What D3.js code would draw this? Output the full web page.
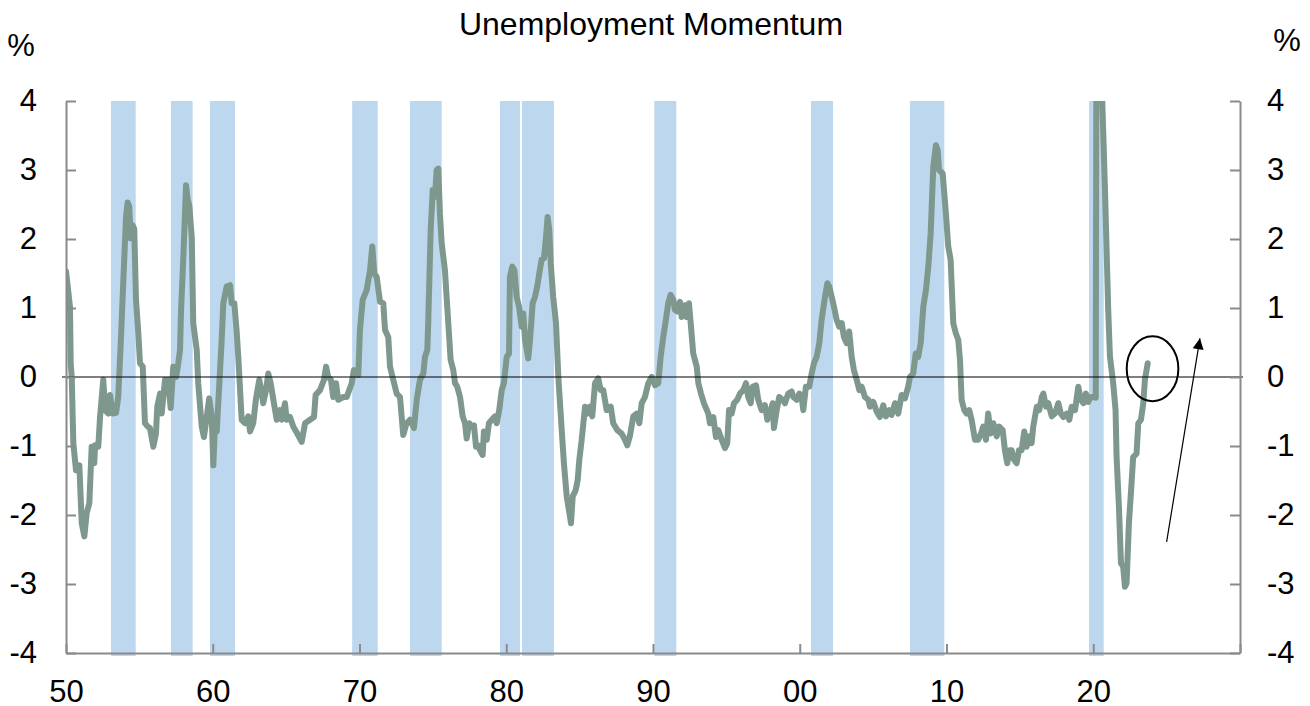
<!DOCTYPE html>
<html>
<head>
<meta charset="utf-8">
<script src="https://cdn.jsdelivr.net/npm/d3@7"></script>
<style>
  body { margin: 0; background: #fff; }
  svg { display: block; font-family: "Liberation Sans", Arial, sans-serif; }
</style>
</head>
<body>
<div class="chart"></div>
<script>
// recession periods [start, end] in decimal years
const recessions = [
  [1953.07, 1954.75], [1957.15, 1958.63], [1959.81, 1961.52], [1969.5, 1971.24],
  [1973.44, 1975.6], [1979.57, 1980.94], [1981.07, 1983.25], [1990.09, 1991.59],
  [2000.77, 2002.27], [2007.51, 2009.85], [2019.71, 2020.71]
];

// unemployment momentum, [year, %]
const momentum = [
  [1950.00, 1.53], [1950.27, 1.02], [1950.32, 0.2], [1950.39, 0.0], [1950.50, -0.96],
  [1950.68, -1.35], [1950.91, -1.28], [1951.07, -2.12], [1951.25, -2.31], [1951.41, -1.97],
  [1951.59, -1.83], [1951.75, -1.01], [1951.93, -1.25], [1951.98, -0.99], [1952.20, -1.01],
  [1952.32, -0.58], [1952.54, -0.04], [1952.66, -0.48], [1952.88, -0.53], [1953.00, -0.26],
  [1953.18, -0.53], [1953.41, -0.52], [1953.56, -0.29], [1953.73, 0.49], [1953.90, 1.36],
  [1954.09, 2.32], [1954.20, 2.53], [1954.31, 2.47], [1954.41, 2.01], [1954.54, 2.2],
  [1954.65, 2.15], [1954.77, 1.12], [1954.93, 0.63], [1955.04, 0.2], [1955.23, 0.15],
  [1955.38, -0.67], [1955.57, -0.72], [1955.72, -0.74], [1955.95, -1.01], [1956.13, -0.82],
  [1956.22, -0.43], [1956.41, -0.24], [1956.52, -0.53], [1956.75, -0.04], [1956.90, -0.19],
  [1956.97, -0.04], [1957.13, -0.45], [1957.31, 0.15], [1957.50, 0.0], [1957.65, 0.2],
  [1957.77, 0.39], [1957.84, 0.97], [1957.99, 1.7], [1958.18, 2.78], [1958.29, 2.57],
  [1958.40, 2.49], [1958.57, 2.03], [1958.67, 0.78], [1958.91, 0.39], [1959.01, -0.09],
  [1959.25, -0.72], [1959.40, -0.87], [1959.59, -0.58], [1959.76, -0.31], [1959.93, -0.57],
  [1960.04, -1.28], [1960.15, -0.72], [1960.27, -0.79], [1960.45, -0.09], [1960.61, 0.54],
  [1960.72, 1.07], [1960.95, 1.31], [1961.18, 1.33], [1961.29, 1.07], [1961.47, 1.07],
  [1961.63, 0.66], [1961.74, 0.29], [1961.97, -0.62], [1962.20, -0.67], [1962.42, -0.57],
  [1962.54, -0.79], [1962.76, -0.67], [1962.95, -0.31], [1963.17, -0.04], [1963.34, -0.24],
  [1963.44, -0.38], [1963.63, -0.19], [1963.78, 0.05], [1963.95, -0.09], [1964.13, -0.33],
  [1964.36, -0.62], [1964.58, -0.48], [1964.70, -0.62], [1964.92, -0.38], [1965.04, -0.62],
  [1965.26, -0.58], [1965.49, -0.72], [1965.76, -0.82], [1966.06, -0.94], [1966.29, -0.67],
  [1966.63, -0.62], [1966.90, -0.58], [1967.01, -0.26], [1967.31, -0.19], [1967.58, -0.04],
  [1967.72, 0.15], [1967.87, 0.0], [1968.06, -0.04], [1968.21, -0.29], [1968.40, -0.09],
  [1968.55, -0.33], [1968.90, -0.29], [1969.13, -0.29], [1969.47, -0.09], [1969.62, 0.1],
  [1969.92, 0.03], [1970.03, 0.68], [1970.22, 1.12], [1970.49, 1.26], [1970.72, 1.55],
  [1970.87, 1.89], [1971.01, 1.5], [1971.17, 1.45], [1971.40, 1.09], [1971.62, 1.07],
  [1971.74, 0.68], [1971.96, 0.58], [1972.08, 0.15], [1972.30, -0.04], [1972.53, -0.24],
  [1972.76, -0.29], [1972.87, -0.57], [1972.98, -0.84], [1973.21, -0.67], [1973.44, -0.62],
  [1973.71, -0.74], [1973.90, -0.33], [1974.12, -0.04], [1974.35, 0.05], [1974.46, 0.29],
  [1974.62, 0.39], [1974.69, 0.83], [1974.85, 2.13], [1974.99, 2.71], [1975.14, 2.61],
  [1975.26, 3.0], [1975.37, 3.02], [1975.48, 2.37], [1975.60, 1.94], [1975.82, 1.55],
  [1976.05, 0.78], [1976.21, 0.25], [1976.39, 0.1], [1976.51, -0.09], [1976.66, -0.14],
  [1976.85, -0.29], [1977.03, -0.57], [1977.19, -0.67], [1977.30, -0.89], [1977.48, -0.67],
  [1977.64, -0.72], [1977.80, -0.7], [1977.94, -1.01], [1978.09, -0.99], [1978.21, -1.06],
  [1978.39, -1.13], [1978.48, -0.79], [1978.67, -0.91], [1978.82, -0.67], [1979.01, -0.62],
  [1979.23, -0.57], [1979.35, -0.67], [1979.52, -0.48], [1979.69, -0.19], [1979.84, -0.09],
  [1980.03, 0.29], [1980.19, 0.34], [1980.25, 1.45], [1980.41, 1.6], [1980.55, 1.55],
  [1980.71, 1.16], [1980.87, 1.02], [1981.05, 0.73], [1981.16, 0.92], [1981.28, 0.54],
  [1981.50, 0.27], [1981.62, 0.54], [1981.80, 1.07], [1981.96, 1.16], [1982.11, 1.31],
  [1982.25, 1.5], [1982.41, 1.7], [1982.57, 1.72], [1982.71, 2.03], [1982.82, 2.32],
  [1982.93, 2.13], [1983.03, 1.65], [1983.20, 1.16], [1983.39, 0.78], [1983.55, 0.0],
  [1983.78, -0.77], [1983.93, -1.25], [1984.12, -1.73], [1984.34, -2.02], [1984.41, -2.12],
  [1984.53, -1.73], [1984.73, -1.64], [1984.87, -1.49], [1984.98, -1.2], [1985.14, -0.91],
  [1985.37, -0.43], [1985.52, -0.53], [1985.71, -0.43], [1985.86, -0.57], [1986.05, -0.09],
  [1986.27, -0.02], [1986.43, -0.19], [1986.61, -0.19], [1986.84, -0.48], [1987.12, -0.43],
  [1987.29, -0.67], [1987.57, -0.77], [1987.86, -0.82], [1988.09, -0.91], [1988.25, -0.99],
  [1988.43, -0.85], [1988.66, -0.57], [1988.89, -0.53], [1989.07, -0.67], [1989.23, -0.38],
  [1989.45, -0.29], [1989.68, -0.09], [1989.91, 0.0], [1990.14, -0.12], [1990.36, -0.09],
  [1990.52, 0.29], [1990.70, 0.58], [1990.88, 0.83], [1991.04, 1.07], [1991.20, 1.19],
  [1991.38, 1.12], [1991.50, 0.97], [1991.65, 0.95], [1991.84, 1.09], [1991.95, 0.87],
  [1992.18, 1.04], [1992.29, 0.87], [1992.45, 1.07], [1992.59, 0.73], [1992.74, 0.34],
  [1992.98, 0.15], [1993.09, -0.09], [1993.27, -0.24], [1993.47, -0.38], [1993.77, -0.53],
  [1993.88, -0.67], [1994.11, -0.58], [1994.29, -0.87], [1994.45, -0.77], [1994.68, -0.91],
  [1994.91, -1.03], [1995.06, -0.96], [1995.18, -0.48], [1995.36, -0.53], [1995.52, -0.38],
  [1995.74, -0.33], [1995.93, -0.24], [1996.15, -0.19], [1996.34, -0.09], [1996.49, -0.29],
  [1996.66, -0.38], [1996.79, -0.14], [1997.02, -0.12], [1997.17, -0.33], [1997.40, -0.48],
  [1997.63, -0.41], [1997.79, -0.62], [1997.97, -0.53], [1998.16, -0.38], [1998.24, -0.74],
  [1998.43, -0.48], [1998.60, -0.29], [1998.84, -0.33], [1998.99, -0.38], [1999.22, -0.24],
  [1999.45, -0.21], [1999.56, -0.29], [1999.79, -0.33], [1999.97, -0.24], [2000.13, -0.29],
  [2000.24, -0.48], [2000.42, -0.14], [2000.65, -0.14], [2000.81, 0.05], [2000.97, 0.2],
  [2001.15, 0.29], [2001.33, 0.49], [2001.49, 0.83], [2001.72, 1.16], [2001.88, 1.36],
  [2002.01, 1.31], [2002.18, 1.16], [2002.33, 1.02], [2002.51, 0.83], [2002.69, 0.73],
  [2002.86, 0.78], [2003.01, 0.58], [2003.20, 0.49], [2003.37, 0.66], [2003.54, 0.29],
  [2003.69, 0.1], [2003.88, -0.04], [2004.06, -0.19], [2004.22, -0.14], [2004.44, -0.29],
  [2004.67, -0.33], [2004.78, -0.43], [2005.01, -0.36], [2005.24, -0.5], [2005.46, -0.58],
  [2005.69, -0.41], [2005.87, -0.57], [2006.10, -0.48], [2006.26, -0.55], [2006.49, -0.38],
  [2006.71, -0.53], [2006.94, -0.26], [2007.17, -0.31], [2007.39, -0.14], [2007.51, 0.0],
  [2007.73, 0.05], [2007.90, 0.34], [2008.07, 0.29], [2008.24, 0.49], [2008.42, 1.02],
  [2008.60, 1.26], [2008.76, 1.6], [2008.92, 2.08], [2009.10, 3.05], [2009.28, 3.36],
  [2009.40, 3.29], [2009.49, 3.0], [2009.74, 2.95], [2009.96, 2.37], [2010.12, 1.89],
  [2010.28, 1.7], [2010.46, 0.78], [2010.64, 0.63], [2010.80, 0.54], [2010.92, 0.25],
  [2011.03, -0.33], [2011.21, -0.48], [2011.37, -0.53], [2011.55, -0.48], [2011.71, -0.62],
  [2011.94, -0.91], [2012.16, -0.91], [2012.35, -0.82], [2012.50, -0.72], [2012.69, -0.91],
  [2012.84, -0.53], [2013.01, -0.82], [2013.19, -0.67], [2013.42, -0.86], [2013.59, -0.72],
  [2013.83, -0.77], [2013.98, -1.06], [2014.14, -1.25], [2014.28, -1.06], [2014.44, -1.06],
  [2014.60, -1.2], [2014.78, -1.25], [2014.94, -1.06], [2015.12, -1.06], [2015.30, -0.79],
  [2015.46, -1.01], [2015.64, -0.86], [2015.80, -0.96], [2015.91, -0.72], [2016.15, -0.43],
  [2016.32, -0.48], [2016.49, -0.29], [2016.60, -0.24], [2016.78, -0.43], [2016.94, -0.38],
  [2017.17, -0.57], [2017.39, -0.53], [2017.62, -0.38], [2017.79, -0.53], [2017.96, -0.58],
  [2018.19, -0.53], [2018.37, -0.62], [2018.53, -0.43], [2018.76, -0.48], [2018.98, -0.14],
  [2019.15, -0.33], [2019.33, -0.38], [2019.50, -0.24], [2019.66, -0.36], [2019.82, -0.29],
  [2020.00, -0.29], [2020.17, -0.3], [2020.25, 9.0], [2020.33, 10.0], [2020.5, 6.0],
  [2020.6, 4.1], [2020.80, 2.71], [2021.02, 0.97], [2021.14, 0.29], [2021.36, -0.09],
  [2021.52, -0.48], [2021.59, -1.16], [2021.75, -1.88], [2021.89, -2.7], [2022.04, -2.75],
  [2022.16, -3.04], [2022.27, -2.99], [2022.43, -2.12], [2022.61, -1.54], [2022.72, -1.16],
  [2022.95, -1.11], [2023.07, -0.67], [2023.25, -0.62], [2023.41, -0.38], [2023.52, -0.04],
  [2023.71, 0.2]
];

const yTicks = [-4, -3, -2, -1, 0, 1, 2, 3, 4];
const xTicks = [1950, 1960, 1970, 1980, 1990, 2000, 2010, 2020, 2030];
const xTickLabels = ["50", "60", "70", "80", "90", "00", "10", "20", ""];

// annotation: circle around latest reading, arrow pointing up
const highlight = { x: 2024.04, y: 0.12, rx: 1.76, ry: 0.47 };
const arrow = { x1: 2025.0, y1: -2.39, x2: 2027.27, y2: 0.56 };

const W = 1310, H = 706;
const margin = { top: 101, right: 70, bottom: 53, left: 66 };
const width = W - margin.left - margin.right;
const height = H - margin.top - margin.bottom;

const svg = d3.select(".chart").append("svg")
  .attr("width", W)
  .attr("height", H);

const defs = svg.append("defs");
defs.append("clipPath").attr("id", "plot")
  .append("rect").attr("width", width).attr("height", height);
defs.append("marker")
  .attr("id", "head")
  .attr("viewBox", "0 0 10 10")
  .attr("refX", 10).attr("refY", 5)
  .attr("markerWidth", 16).attr("markerHeight", 11)
  .attr("markerUnits", "userSpaceOnUse")
  .attr("orient", "auto")
  .append("path").attr("d", "M0,0L10,5L0,10Z").attr("fill", "#000");

const g = svg.append("g").attr("transform", `translate(${margin.left},${margin.top})`);

const x = d3.scaleLinear().domain([1950, 2030]).range([0, width]);
const y = d3.scaleLinear().domain([-4, 4]).range([height, 0]);

// recession shading
g.append("g").selectAll("rect")
  .data(recessions)
  .join("rect")
  .attr("x", d => x(d[0]))
  .attr("width", d => x(d[1]) - x(d[0]))
  .attr("y", y(4))
  .attr("height", y(-4) - y(4) + 3)
  .attr("fill", "#bdd7ee");

// series
const line = d3.line().x(d => x(d[0])).y(d => y(d[1]));
g.append("path")
  .datum(momentum)
  .attr("clip-path", "url(#plot)")
  .attr("fill", "none")
  .attr("stroke", "#7e988e")
  .attr("stroke-width", 6)
  .attr("stroke-linejoin", "round")
  .attr("stroke-linecap", "round")
  .attr("d", line);

// zero line
g.append("line")
  .attr("x1", x(1950) - 4).attr("x2", x(2030) + 3)
  .attr("y1", y(0)).attr("y2", y(0))
  .attr("stroke", "#000").attr("stroke-width", 1.2);

// axes
const fontSize = 31;
function styleAxis(sel) {
  sel.selectAll(".domain, .tick line").attr("stroke", "#8a8a8a").attr("stroke-width", 2);
  sel.selectAll("text").attr("font-size", fontSize).attr("fill", "#000")
    .attr("font-family", '"Liberation Sans", Arial, sans-serif');
}

g.append("g")
  .call(d3.axisLeft(y).tickValues(yTicks).tickFormat(d => String(d))
    .tickSizeInner(-10).tickSizeOuter(0).tickPadding(29))
  .call(styleAxis);

g.append("g")
  .attr("transform", `translate(${width},0)`)
  .call(d3.axisRight(y).tickValues(yTicks).tickFormat(d => String(d))
    .tickSizeInner(-10).tickSizeOuter(0).tickPadding(27))
  .call(styleAxis);

g.append("g")
  .attr("transform", `translate(0,${height})`)
  .call(d3.axisBottom(x).tickValues(xTicks)
    .tickFormat((d, i) => xTickLabels[i])
    .tickSizeInner(-9).tickSizeOuter(0).tickPadding(27))
  .call(styleAxis);

// annotations
g.append("ellipse")
  .attr("cx", x(highlight.x)).attr("cy", y(highlight.y))
  .attr("rx", x(highlight.x + highlight.rx) - x(highlight.x))
  .attr("ry", y(highlight.y - highlight.ry) - y(highlight.y))
  .attr("fill", "none").attr("stroke", "#000").attr("stroke-width", 2);

g.append("line")
  .attr("x1", x(arrow.x1)).attr("y1", y(arrow.y1))
  .attr("x2", x(arrow.x2)).attr("y2", y(arrow.y2))
  .attr("stroke", "#000").attr("stroke-width", 1.2)
  .attr("marker-end", "url(#head)");

// title and unit labels
svg.append("text")
  .attr("x", 651).attr("y", 35)
  .attr("text-anchor", "middle")
  .attr("font-size", 32)
  .text("Unemployment Momentum");

svg.append("text")
  .attr("x", 21).attr("y", 56)
  .attr("text-anchor", "middle")
  .attr("font-size", fontSize)
  .text("%");

svg.append("text")
  .attr("x", 1287).attr("y", 51)
  .attr("text-anchor", "middle")
  .attr("font-size", fontSize)
  .text("%");
</script>
</body>
</html>
